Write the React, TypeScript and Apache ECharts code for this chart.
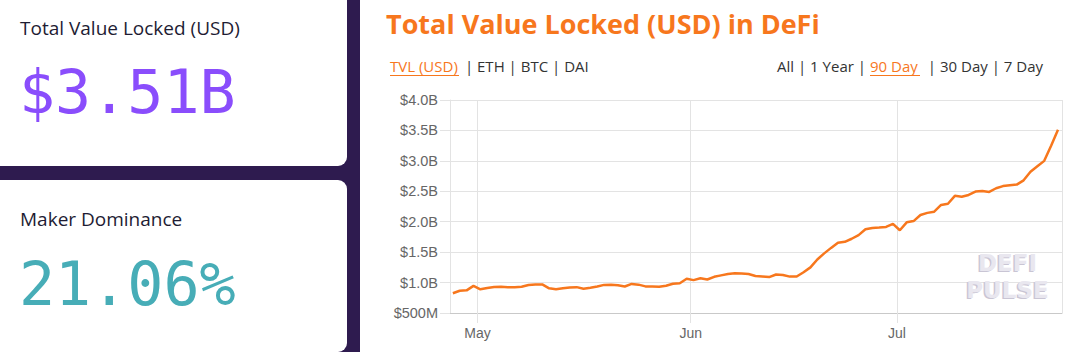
import React, { useEffect, useRef } from "react";
import * as echarts from "echarts";

// ---- data ----
const startDate = { year: 2020, month: 3, day: 27 }; // 27 Apr 2020, one point per day
const tvlBillions = [
  0.824, 0.866, 0.872, 0.945, 0.89, 0.91, 0.928, 0.93, 0.922, 0.925,
  0.93, 0.96, 0.968, 0.97, 0.905, 0.89, 0.905, 0.918, 0.925, 0.898,
  0.915, 0.935, 0.962, 0.966, 0.955, 0.935, 0.978, 0.966, 0.937, 0.936,
  0.93, 0.948, 0.98, 0.99, 1.062, 1.04, 1.07, 1.05, 1.095, 1.118,
  1.14, 1.152, 1.148, 1.14, 1.108, 1.1, 1.09, 1.133, 1.125, 1.098,
  1.1, 1.17, 1.25, 1.38, 1.48, 1.57, 1.655, 1.67, 1.72, 1.78,
  1.875, 1.898, 1.905, 1.915, 1.965, 1.86, 1.99, 2.01, 2.11, 2.145,
  2.165, 2.275, 2.295, 2.425, 2.41, 2.44, 2.495, 2.505, 2.49, 2.55,
  2.585, 2.6, 2.61, 2.68, 2.82, 2.91, 3.0, 3.25, 3.51,
];
const monthNames = ["Jan", "Feb", "Mar", "Apr", "May", "Jun", "Jul", "Aug", "Sep", "Oct", "Nov", "Dec"];
const yMin = 0.5;
const yMax = 4.0;
const yStep = 0.5;
const headlineLabel = "Total Value Locked (USD)";
const headlineValue = "$3.51B";
const dominanceLabel = "Maker Dominance";
const dominanceValue = "21.06%";
const chartTitle = "Total Value Locked (USD) in DeFi";
const assetLinks = ["TVL (USD)", "ETH", "BTC", "DAI"];
const rangeLinks = ["All", "1 Year", "90 Day", "30 Day", "7 Day"];
const watermark = ["DEFI", "PULSE"];

const ORANGE = "#f7771d";
const DARK = "#2e1b4f";
const TEXT = "#1e1c33";
const LINKTEXT = "#333333";
const LINKFONT = "15px 'Open Sans'";

export default function App() {
  const ref = useRef<HTMLDivElement>(null);

  useEffect(() => {
    if (!ref.current) return;
    const chart = echarts.init(ref.current, null, { renderer: "svg", width: 1080, height: 352 });

    const seriesData = tvlBillions.map((v, i) => [
      new Date(startDate.year, startDate.month, startDate.day + i, 10).getTime(),
      v,
    ]);
    const xMin = new Date(startDate.year, startDate.month, startDate.day).getTime();
    const xMax = new Date(startDate.year, startDate.month, startDate.day + tvlBillions.length).getTime();
    const DAY = 86400000;

    const graphic: any[] = [
      // cards
      { type: "rect", z: -10, shape: { x: -20, y: -20, width: 367, height: 186, r: 9 }, style: { fill: "#ffffff" } },
      { type: "rect", z: -10, shape: { x: -20, y: 180, width: 367, height: 172, r: 9 }, style: { fill: "#ffffff" } },
      { type: "rect", z: -10, shape: { x: 360, y: -20, width: 740, height: 392 }, style: { fill: "#ffffff" } },
      // left texts
      { type: "text", z: 10, x: 20, y: 28, style: { text: headlineLabel, fill: TEXT, font: "19px 'Open Sans'", verticalAlign: "middle" } },
      { type: "text", z: 10, x: 19, y: 92, style: { text: headlineValue, fill: "#8a4dfc", font: "60px 'DejaVu Sans Mono'", verticalAlign: "middle" } },
      { type: "text", z: 10, x: 20, y: 219, style: { text: dominanceLabel, fill: TEXT, font: "19px 'Open Sans'", verticalAlign: "middle" } },
      { type: "text", z: 10, x: 19, y: 284, style: { text: dominanceValue, fill: "#47adb7", font: "60px 'DejaVu Sans Mono'", verticalAlign: "middle" } },
      // title
      { type: "text", z: 10, x: 386, y: 23, style: { text: chartTitle, fill: ORANGE, font: "bold 27px 'Open Sans'", verticalAlign: "middle" } },
      // asset links
      { type: "text", z: 10, x: 390, y: 66, style: { text: assetLinks[0], fill: ORANGE, font: LINKFONT, verticalAlign: "middle" } },
      { type: "line", z: 10, shape: { x1: 390, y1: 75.5, x2: 459, y2: 75.5 }, style: { stroke: ORANGE, lineWidth: 1 } },
      { type: "text", z: 10, x: 461, y: 66, style: { text: " | " + assetLinks.slice(1).join(" | "), fill: LINKTEXT, font: LINKFONT, verticalAlign: "middle" } },
      // range links
      { type: "text", z: 10, x: 866, y: 66, style: { text: rangeLinks.slice(0, 2).join(" | ") + " |", fill: LINKTEXT, font: LINKFONT, verticalAlign: "middle", align: "right" } },
      { type: "text", z: 10, x: 870, y: 66, style: { text: rangeLinks[2], fill: ORANGE, font: LINKFONT, verticalAlign: "middle" } },
      { type: "line", z: 10, shape: { x1: 870, y1: 75.5, x2: 920, y2: 75.5 }, style: { stroke: ORANGE, lineWidth: 1 } },
      { type: "text", z: 10, x: 1043, y: 66, style: { text: "| " + rangeLinks.slice(3).join(" | "), fill: LINKTEXT, font: LINKFONT, verticalAlign: "middle", align: "right" } },
      // watermark
      { type: "text", z: 1, x: 1006, y: 264, style: { text: watermark[0], fill: "#c9c5d4", font: "bold 23px 'DejaVu Sans'", align: "center", verticalAlign: "middle" } },
      { type: "text", z: 1, x: 1007.5, y: 262.5, style: { text: watermark[0], fill: "#e9e7ef", font: "bold 23px 'DejaVu Sans'", align: "center", verticalAlign: "middle" } },
      { type: "text", z: 1, x: 1006, y: 291, style: { text: watermark[1], fill: "#c9c5d4", font: "bold 23px 'DejaVu Sans'", align: "center", verticalAlign: "middle" } },
      { type: "text", z: 1, x: 1007.5, y: 289.5, style: { text: watermark[1], fill: "#e9e7ef", font: "bold 23px 'DejaVu Sans'", align: "center", verticalAlign: "middle" } },
    ];

    chart.setOption({
      animation: false,
      backgroundColor: DARK,
      graphic,
      grid: { left: 450, top: 100, right: 18, bottom: 39, containLabel: false },
      xAxis: {
        type: "time",
        min: xMin,
        max: xMax,
        minInterval: 28 * DAY,
        maxInterval: 31 * DAY,
        axisLine: { show: true, lineStyle: { color: "#c9c9c9", width: 1 } },
        axisTick: { show: true, length: 10, lineStyle: { color: "#e3e3e3" } },
        splitLine: { show: true, lineStyle: { color: "#e3e3e3", width: 1 } },
        axisLabel: {
          color: "#666666",
          fontFamily: "Liberation Sans",
          fontSize: 14,
          margin: 13,
          formatter: (val: number) => monthNames[new Date(val).getMonth()],
        },
      },
      yAxis: {
        type: "value",
        min: yMin,
        max: yMax,
        interval: yStep,
        axisLine: { show: true, lineStyle: { color: "#e3e3e3", width: 1 } },
        axisTick: { show: true, length: 10, lineStyle: { color: "#e3e3e3" } },
        splitLine: { show: true, lineStyle: { color: "#e3e3e3", width: 1 } },
        axisLabel: {
          color: "#666666",
          fontFamily: "Liberation Sans",
          fontSize: 14.5,
          margin: 12,
          formatter: (v: number) => (v < 1 ? "$" + Math.round(v * 1000) + "M" : "$" + v.toFixed(1) + "B"),
        },
      },
      series: [
        {
          type: "line",
          data: seriesData,
          showSymbol: false,
          symbol: "none",
          lineStyle: { color: ORANGE, width: 2.5 },
          z: 5,
        },
      ],
    });

    return () => chart.dispose();
  }, []);

  return (
    <div
      ref={ref}
      style={{ position: "fixed", left: 0, top: 0, width: 1080, height: 352 }}
    />
  );
}
